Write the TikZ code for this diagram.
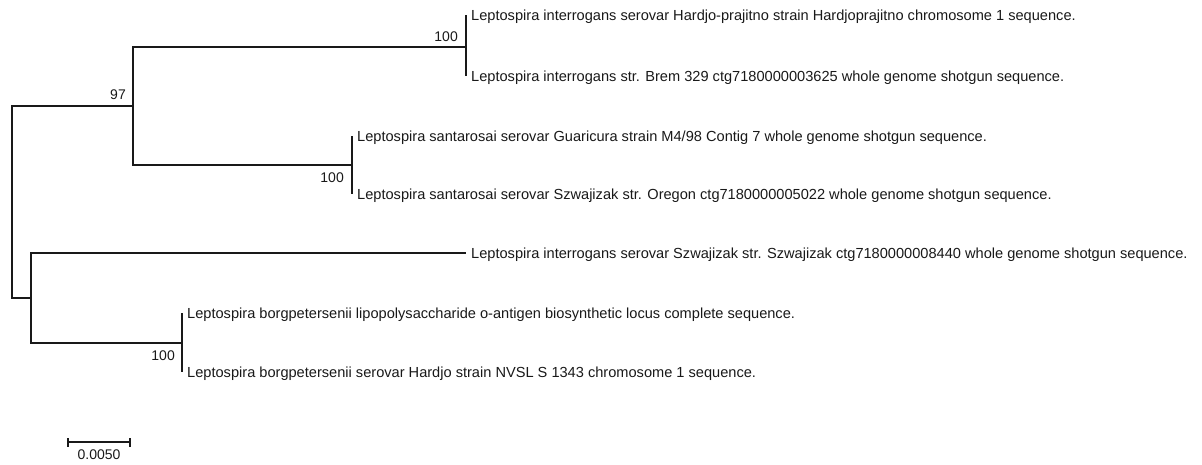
\documentclass[tikz,border=0pt]{standalone}
\usepackage{fontspec}
\setmainfont{Liberation Sans}
\usetikzlibrary{calc}
\begin{document}
\begin{tikzpicture}[x=1pt,y=-1pt,
  branch/.style={draw=black!90,line width=1.1pt},
  leaf/.style={anchor=west,inner xsep=5pt,inner ysep=0pt,text height=10.5pt,text depth=0pt,font=\fontsize{14.6}{16}\selectfont,text=black!90},
  boot/.style={anchor=south east,inner sep=1pt,font=\fontsize{14}{16}\selectfont,text=black!90},
  bootb/.style={anchor=north east,inner sep=1pt,font=\fontsize{14}{16}\selectfont,text=black!90}]
\useasboundingbox (0,0) rectangle (1202,464);
% internal nodes
\coordinate (root) at (12,202);
\coordinate (A) at (133,106);
\coordinate (C) at (466,47);
\coordinate (D) at (352,165);
\coordinate (B) at (31,298);
\coordinate (E) at (182,343);
% leaves
\node[leaf] (l1) at (466,15) {Leptospira interrogans serovar Hardjo-prajitno strain Hardjoprajitno chromosome 1 sequence.};
\node[leaf] (l2) at (466,76) {Leptospira interrogans str. Brem 329 ctg7180000003625 whole genome shotgun sequence.};
\node[leaf] (l3) at (352,136) {Leptospira santarosai serovar Guaricura strain M4/98 Contig 7 whole genome shotgun sequence.};
\node[leaf] (l4) at (352,194) {Leptospira santarosai serovar Szwajizak str. Oregon ctg7180000005022 whole genome shotgun sequence.};
\node[leaf] (l5) at (466,253) {Leptospira interrogans serovar Szwajizak str. Szwajizak ctg7180000008440 whole genome shotgun sequence.};
\node[leaf] (l6) at (182,313) {Leptospira borgpetersenii lipopolysaccharide o-antigen biosynthetic locus complete sequence.};
\node[leaf] (l7) at (182,372) {Leptospira borgpetersenii serovar Hardjo strain NVSL S 1343 chromosome 1 sequence.};
% branches
\draw[branch] (root) |- (A);
\draw[branch] (root) |- (B);
\draw[branch] (A) |- (C);
\draw[branch] (A) |- (D);
\draw[branch] (C) |- (l1.west);
\draw[branch] (C) |- (l2.west);
\draw[branch] (D) |- (l3.west);
\draw[branch] (D) |- (l4.west);
\draw[branch] (B) |- (l5.west);
\draw[branch] (B) |- (E);
\draw[branch] (E) |- (l6.west);
\draw[branch] (E) |- (l7.west);
% bootstrap values
\node[boot] (b1) at ([xshift=-7pt,yshift=4pt]C) {100};
\node[boot] (b2) at ([xshift=-6pt,yshift=5pt]A) {97};
\node[bootb] (b3) at ([xshift=-7pt,yshift=-7pt]D) {100};
\node[bootb] (b4) at ([xshift=-6pt,yshift=-7pt]E) {100};
% scale bar
\coordinate (s1) at (68,442);
\coordinate (s2) at (130,442);
\draw[branch] (s1) -- (s2);
\draw[branch] ([yshift=-4.5pt]s1) -- ([yshift=4.5pt]s1);
\draw[branch] ([yshift=-4.5pt]s2) -- ([yshift=4.5pt]s2);
\node[anchor=north,inner sep=1pt,font=\fontsize{14}{16}\selectfont,text=black!90] (sl) at ($(s1)!0.5!(s2)+(0,7)$) {0.0050};
\end{tikzpicture}
\end{document}
